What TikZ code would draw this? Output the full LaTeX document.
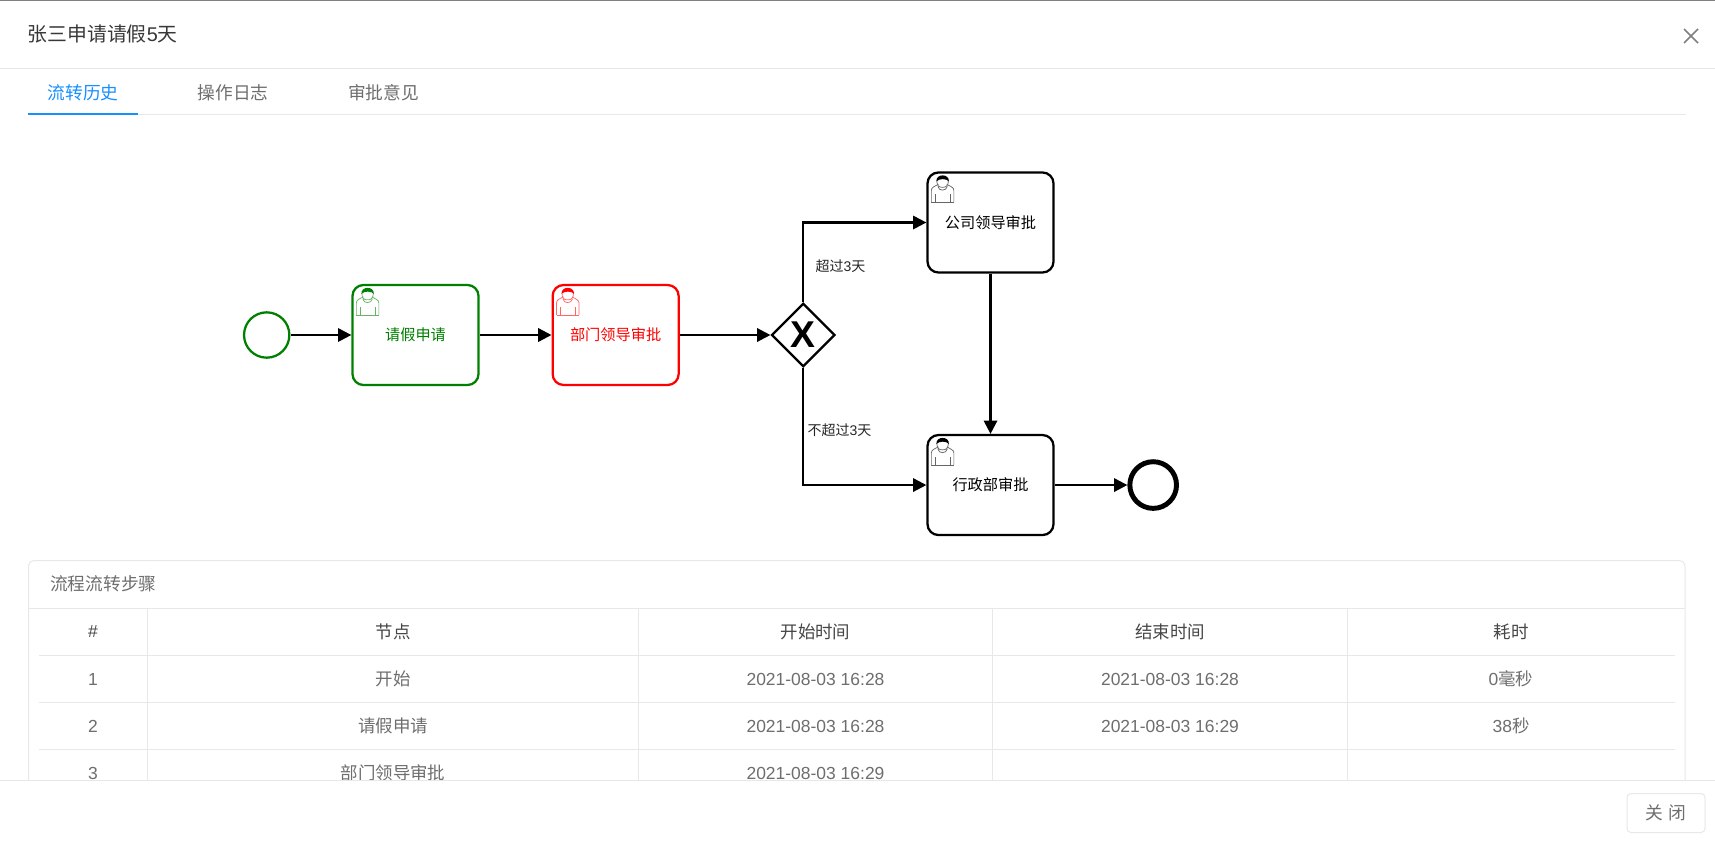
\documentclass[tikz,border=0pt]{standalone}
\usepackage{fontspec}
\setmainfont{Liberation Sans}
\newfontfamily\cjk{Noto Sans CJK SC}
\usepackage{tikz}
\usetikzlibrary{arrows.meta,shapes.geometric}

\definecolor{flowgreen}{RGB}{0,128,0}
\definecolor{flowred}{RGB}{255,0,0}
\definecolor{tabblue}{RGB}{24,144,255}
\definecolor{hairline}{RGB}{232,232,232}
\definecolor{bodytext}{RGB}{110,110,110}
\definecolor{headtext}{RGB}{70,70,70}

% user icon in the top left corner of a task
\newcommand{\usericon}[2]{
\begin{scope}[shift={(#1.north west)},-,line width=0.55pt]
\draw[#2!60] (5,31) -- (5,19) .. controls (5,16) and (8,15) .. (12,13);
\draw[#2!60] (27.5,31) -- (27.5,19) .. controls (27.5,16) and (24,15) .. (20.5,13);
\draw[#2!60] (5,31) -- (27.5,31);
\draw[#2!60] (9,31) -- (9,23);
\draw[#2!60] (23.5,31) -- (23.5,23);
\draw[#2!60] (11.5,15) .. controls (12,20) and (20,20) .. (21,15);
\draw[#2!60] (10.5,9) .. controls (10.5,14) and (12,16) .. (16.2,16) .. controls (20,16) and (22,14) .. (22,9);
\fill[#2] (10,10) .. controls (9.5,2) and (23,2) .. (22.5,10) .. controls (20,7) and (13,7) .. (10,10);
\end{scope}
}

\begin{document}
\begin{tikzpicture}[x=0.75pt,y=-0.75pt,->,>={Triangle[length=10pt,width=10pt]},
line width=1.7pt,node distance=100pt]
\tikzstyle{usertask}=[draw,rectangle,rounded corners=8.2pt,minimum width=94.5pt,minimum height=75pt,inner sep=0pt,font=\cjk\fontsize{11.4}{14}\selectfont]
\tikzstyle{startev}=[draw=flowgreen,circle,minimum size=34pt,inner sep=0pt]
\tikzstyle{endev}=[draw,circle,line width=3.7pt,minimum size=35pt,inner sep=0pt]
\tikzstyle{gate}=[draw,diamond,aspect=1,minimum size=47.5pt,inner sep=0pt,font=\fontsize{28}{28}\selectfont\bfseries]
\tikzstyle{flowlabel}=[font=\fontsize{10.5}{12}\selectfont,text=black!85,inner sep=0pt]
\tikzstyle{cell}=[font=\fontsize{13.1}{16}\selectfont,text=bodytext,inner sep=0pt]
\tikzstyle{headcell}=[font=\fontsize{13.1}{16}\selectfont,text=headtext,inner sep=0pt]
\tikzstyle{tabitem}=[font=\cjk\fontsize{13.3}{16}\selectfont,text=bodytext,inner sep=0pt]
\tikzstyle{rule}=[-,draw=hairline,line width=0.75pt]

\useasboundingbox (0,0) rectangle (1715,846);
\fill[white] (0,0) rectangle (1715,846);
\draw[-,draw=black!50,line width=1pt] (0,0.5) -- (1715,0.5);

% dialog header
\node[anchor=west,inner sep=0pt,text=black!78,font=\fontsize{14.9}{18}\selectfont] (title) at (26.5,34) {{\cjk 张三申请请假}5{\cjk 天}};
\draw[-,draw=black!50,line width=1.1pt] (1684,29) -- (1698,43);
\draw[-,draw=black!50,line width=1.1pt] (1698,29) -- (1684,43);
\draw[rule] (0,68.5) -- (1715,68.5);

% tabs
\node[tabitem,text=tabblue] (tabflow) at (83,93) {流转历史};
\node[tabitem] (tablog) at (233,93) {操作日志};
\node[tabitem] (tabnote) at (383.5,93) {审批意见};
\draw[rule] (28,114.5) -- (1686,114.5);
\draw[-,draw=tabblue,line width=1.5pt] (28,114) -- (138,114);

% process
\node[startev]                                       (start) at (266.7,335) {};
\node[usertask,draw=flowgreen,text=flowgreen,right of=start,node distance=111.6pt] (apply) {请假申请};
\node[usertask,draw=flowred,text=flowred,right of=apply,node distance=150.1pt]     (dept) {部门领导审批};
\node[gate,right of=dept,node distance=140.7pt]      (gw) {X};
\node[usertask]                                      (boss) at (990.5,222.5) {公司领导审批};
\node[usertask,below of=boss,node distance=196.9pt]  (admin) {行政部审批};
\node[endev,right of=admin,node distance=122pt]      (stop) {};

\usericon{apply}{flowgreen}
\usericon{dept}{flowred}
\usericon{boss}{black}
\usericon{admin}{black}

\path
(start) edge (apply)
(apply) edge (dept)
(dept)  edge (gw)
(boss)  edge (admin)
(admin) edge (stop);
\draw (gw.north) |- (boss.west);
\draw (gw.south) |- (admin.west);

\node[flowlabel] (over) at (840.5,266.5) {{\cjk 超过}3{\cjk 天}};
\node[flowlabel] (notover) at (839.5,430) {{\cjk 不超过}3{\cjk 天}};

% table panel
\draw[rule,rounded corners=4pt] (28.5,790) -- (28.5,560.5) -- (1685,560.5) -- (1685,790);
\draw[rule] (28.5,608.5) -- (1685,608.5);
\foreach \y in {655.5,702.5,749.5}
\draw[rule] (39,\y) -- (1675,\y);
\foreach \x in {147.5,638.5,992.5,1347.5}
\draw[rule] (\x,608.5) -- (\x,790);
\node[anchor=west,tabitem] (steps) at (49,584) {流程流转步骤};

\node[headcell] (hnum) at (93,632) {\#};
\node[headcell] (hnode) at (393,632) {{\cjk 节点}};
\node[headcell] (hbegin) at (815.5,632) {{\cjk 开始时间}};
\node[headcell] (hend) at (1170,632) {{\cjk 结束时间}};
\node[headcell] (hcost) at (1511,632) {{\cjk 耗时}};

\node[cell] (num1) at (93,679) {1};
\node[cell] (node1) at (393,679) {{\cjk 开始}};
\node[cell] (begin1) at (815.5,679) {2021-08-03 16:28};
\node[cell] (end1) at (1170,679) {2021-08-03 16:28};
\node[cell] (cost1) at (1511,679) {0{\cjk 毫秒}};

\node[cell] (num2) at (93,726) {2};
\node[cell] (node2) at (393,726) {{\cjk 请假申请}};
\node[cell] (begin2) at (815.5,726) {2021-08-03 16:28};
\node[cell] (end2) at (1170,726) {2021-08-03 16:29};
\node[cell] (cost2) at (1511,726) {38{\cjk 秒}};

\node[cell] (num3) at (93,773) {3};
\node[cell] (node3) at (393,773) {{\cjk 部门领导审批}};
\node[cell] (begin3) at (815.5,773) {2021-08-03 16:29};

% dialog footer
\fill[white] (0,780) rectangle (1715,846);
\draw[rule] (0,780) -- (1715,780);
\draw[rule,rounded corners=3pt] (1627,793.5) rectangle (1705,832.5);
\node[tabitem] (close) at (1666,813) {关\hspace{4pt}闭};
\end{tikzpicture}
\end{document}
